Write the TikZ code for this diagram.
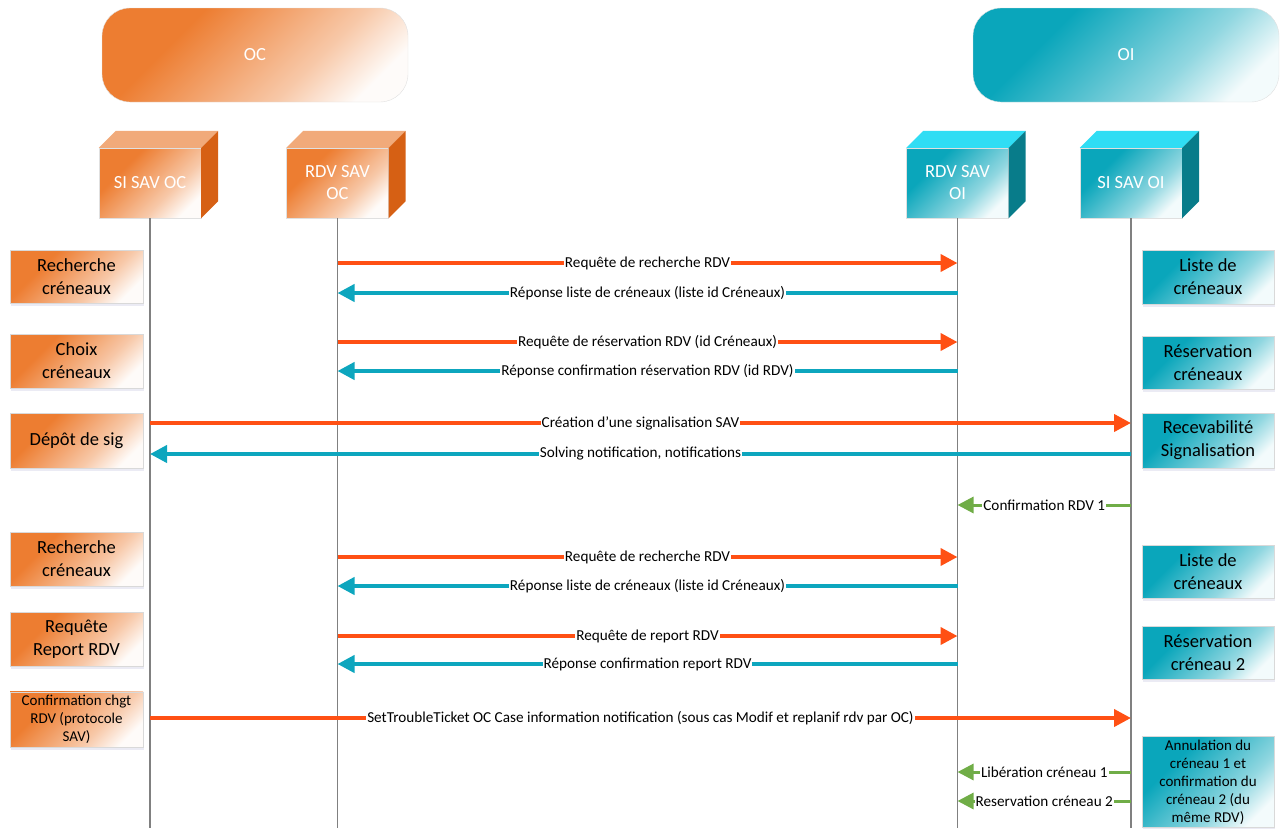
\documentclass[tikz,border=0pt]{standalone}
\usepackage{fontspec}
\setmainfont{Carlito}
\usetikzlibrary{arrows.meta,shadows,calc}
\definecolor{ocorange}{RGB}{237,125,49}
\definecolor{ocside}{RGB}{214,96,20}
\definecolor{octop}{RGB}{241,170,122}
\definecolor{oiteal}{RGB}{10,166,187}
\definecolor{oiside}{RGB}{8,124,138}
\definecolor{oitop}{RGB}{48,221,244}
\definecolor{reqline}{RGB}{255,80,20}
\definecolor{repline}{RGB}{13,166,190}
\definecolor{confline}{RGB}{112,173,71}
\definecolor{lifeline}{RGB}{128,128,128}
\pgfdeclarehorizontalshading{ocfade}{100bp}{color(0bp)=(ocorange); color(33bp)=(ocorange); color(62bp)=(ocorange!42); color(76bp)=(ocorange!3); color(100bp)=(ocorange!3)}
\pgfdeclarehorizontalshading{oifade}{100bp}{color(0bp)=(oiteal); color(33bp)=(oiteal); color(62bp)=(oiteal!45); color(76bp)=(oiteal!5); color(100bp)=(oiteal!5)}

\begin{document}
\begin{tikzpicture}[x=1pt,y=-1pt,
  entete/.style={rounded corners=28pt, minimum width=306pt, minimum height=94pt, draw=black!12, text=white, font=\fontsize{18.5}{22}\selectfont},
  cube/.style={minimum width=102pt, minimum height=70pt, draw=black!12, text=white, align=center, font=\fontsize{18.5}{22}\selectfont},
  etape/.style={minimum width=133pt, align=center, draw=black!15, font=\fontsize{18.5}{23}\selectfont, drop shadow={shadow xshift=1pt, shadow yshift=-3pt, fill=blue!30!gray, opacity=0.12}},
  oc/.style={shading=ocfade, shading angle=-45},
  oi/.style={shading=oifade, shading angle=-45},
  vie/.style={draw=lifeline, line width=1.3pt},
  msg/.style={line width=4pt},
  req/.style={msg, draw=reqline, -{Triangle[length=17pt,width=17pt]}},
  rep/.style={msg, draw=repline, -{Triangle[length=17pt,width=17pt]}},
  conf/.style={line width=3pt, draw=confline, -{Triangle[length=16pt,width=16pt]}},
  lbl/.style={fill=white, inner sep=1pt, text=black, font=\fontsize{15.2}{17}\selectfont}]
\useasboundingbox (0,0) rectangle (1288,828);

% acteurs
\node[entete, oc] (hoc) at (255,55) {OC};
\node[entete, oi] (hoi) at (1126,55) {OI};

\node[cube, oc] (sioc) at (150,183) {SI SAV OC};
\node[cube, oc] (rdvoc) at (337.5,183) {RDV SAV\\OC};
\node[cube, oi] (rdvoi) at (957.5,183) {RDV SAV\\OI};
\node[cube, oi] (sioi) at (1131,183) {SI SAV OI};

\foreach \c/\top/\side in {sioc/octop/ocside, rdvoc/octop/ocside, rdvoi/oitop/oiside, sioi/oitop/oiside} {
  \fill[\top] (\c.north west) -- ++(17,-17) -- ($(\c.north east)+(17,-17)$) -- (\c.north east) -- cycle;
  \fill[\side] (\c.north east) -- ++(17,-17) -- ($(\c.south east)+(17,-17)$) -- (\c.south east) -- cycle;
}

% lignes de vie
\coordinate (fin) at (0,828);
\foreach \c in {sioc,rdvoc,rdvoi,sioi}
  \draw[vie] (\c.south) -- (\c.south |- fin);

% etapes OC
\node[etape, oc, minimum height=53pt] (l1) at (76.5,276.5) {Recherche\\créneaux};
\node[etape, oc, minimum height=54pt] (l2) at (76.5,361) {Choix\\créneaux};
\node[etape, oc, minimum height=55pt] (l3) at (76.5,440.5) {Dépôt de sig};
\node[etape, oc, minimum height=54pt] (l4) at (76.5,559) {Recherche\\créneaux};
\node[etape, oc, minimum height=54pt] (l5) at (76.5,639) {Requête\\Report RDV};
\node[etape, oc, minimum height=55pt, font=\fontsize{15}{18}\selectfont] (l6) at (76.5,719.5) {Confirmation chgt\\RDV (protocole\\SAV)};

% etapes OI
\node[etape, oi, minimum width=132pt, minimum height=54pt] (r1) at (1208,277) {Liste de\\créneaux};
\node[etape, oi, minimum width=132pt, minimum height=53pt] (r2) at (1208,362.5) {Réservation\\créneaux};
\node[etape, oi, minimum width=132pt, minimum height=55pt] (r3) at (1208,440.5) {Recevabilité\\Signalisation};
\node[etape, oi, minimum width=132pt, minimum height=53pt] (r4) at (1208,571.5) {Liste de\\créneaux};
\node[etape, oi, minimum width=132pt, minimum height=53pt] (r5) at (1208,652.5) {Réservation\\créneau 2};
\node[etape, oi, minimum width=132pt, minimum height=90pt, font=\fontsize{15}{18}\selectfont] (r6) at (1208,782) {Annulation du\\créneau 1 et\\confirmation du\\créneau 2 (du\\même RDV)};

% messages
\foreach \n/\y in {m1/263, m2/293, m3/342, m4/371, m5/423, m6/454, m7/505, m8/557, m9/586, m10/636, m11/664, m12/718, m13/772, m14/801}
  \coordinate (\n) at (0,\y);

\draw[req] (rdvoc |- m1) -- (rdvoi |- m1) node[lbl, midway] {Requête de recherche RDV};
\draw[rep] (rdvoi |- m2) -- (rdvoc |- m2) node[lbl, midway] {Réponse liste de créneaux (liste id Créneaux)};
\draw[req] (rdvoc |- m3) -- (rdvoi |- m3) node[lbl, midway] {Requête de réservation RDV (id Créneaux)};
\draw[rep] (rdvoi |- m4) -- (rdvoc |- m4) node[lbl, midway] {Réponse confirmation réservation RDV (id RDV)};
\draw[req] (sioc |- m5) -- (sioi |- m5) node[lbl, midway] {Création d’une signalisation SAV};
\draw[rep] (sioi |- m6) -- (sioc |- m6) node[lbl, midway] {Solving notification, notifications};
\draw[conf] (sioi |- m7) -- (rdvoi |- m7) node[lbl, midway] {Confirmation RDV 1};
\draw[req] (rdvoc |- m8) -- (rdvoi |- m8) node[lbl, midway] {Requête de recherche RDV};
\draw[rep] (rdvoi |- m9) -- (rdvoc |- m9) node[lbl, midway] {Réponse liste de créneaux (liste id Créneaux)};
\draw[req] (rdvoc |- m10) -- (rdvoi |- m10) node[lbl, midway] {Requête de report RDV};
\draw[rep] (rdvoi |- m11) -- (rdvoc |- m11) node[lbl, midway] {Réponse confirmation report RDV};
\draw[req] (sioc |- m12) -- (sioi |- m12) node[lbl, midway] {SetTroubleTicket OC Case information notification (sous cas Modif et replanif rdv par OC)};
\draw[conf] (sioi |- m13) -- (rdvoi |- m13) node[lbl, midway] {Libération créneau 1};
\draw[conf] (sioi |- m14) -- (rdvoi |- m14) node[lbl, midway] {Reservation créneau 2};

\end{tikzpicture}
\end{document}
